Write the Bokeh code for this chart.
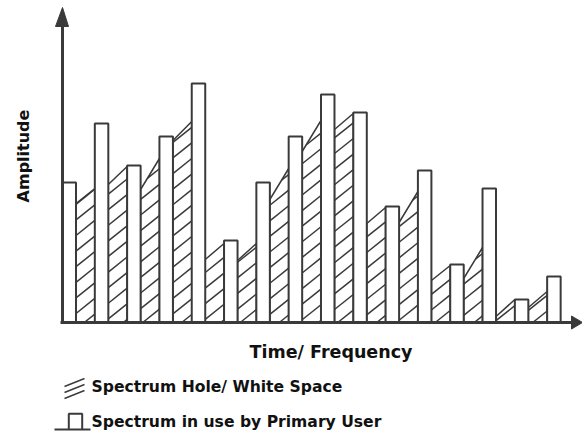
import numpy as np
from bokeh.plotting import figure
from bokeh.models import Range1d, Label
from bokeh.embed import file_html
from bokeh.resources import INLINE

# ---------------- data ----------------
slots = list(range(16))  # time / frequency slots
pu_amplitude = [14.0, 19.9, 15.7, 18.6, 23.9, 8.2, 14.0, 18.6, 22.8, 21.0, 11.6, 15.2, 5.8, 13.4, 2.3, 4.6]
hole_start = [11.9, 13.8, 13.3, 18.2, 6.3, 6.2, 12.3, 17.1, 19.3, 9.9, 10.0, 4.2, 4.4, 0.6, 1.5]
hole_end = [13.4, 15.6, 16.4, 20.1, 7.9, 7.9, 15.4, 20.2, 20.9, 11.5, 13.1, 5.7, 7.5, 2.3, 3.1]
x_label = "Time/ Frequency"
y_label = "Amplitude"
legend_labels = ["Spectrum Hole/ White Space", "Spectrum in use by Primary User"]

# ---------------- layout helpers (page px -> data) ----------------
PX_X, PX_Y = 32.31, 10.0
X0, Y0 = 62.0, 322.0


def dx(px):
    return (px - X0) / PX_X


def dy(py):
    return (Y0 - py) / PX_Y


BW = 13.5 / PX_X
INK = "#3a3a3a"
TEXT = "#111111"
FONT = "DejaVu Sans"

p = figure(width=582, height=435,
           x_range=Range1d(dx(0), dx(582)), y_range=Range1d(dy(435), dy(0)),
           x_axis_type=None, y_axis_type=None, toolbar_location=None,
           output_backend="svg", min_border=0, outline_line_color=None)
p.background_fill_color = "white"
p.border_fill_color = "white"

# ---------------- hatch lines inside spectrum holes ----------------
m = 0.8 * PX_X / PX_Y
gap = 15.6 / PX_Y
c0 = -0.18
hx0, hy0, hx1, hy1 = [], [], [], []
for i, (hl, hr) in enumerate(zip(hole_start, hole_end)):
    xl = slots[i] + BW
    xr = slots[i] + 1
    s = (hr - hl) / (xr - xl)
    for k in range(-40, 30):
        c = c0 + k * gap
        lo, hi = xl, xr
        lo = max(lo, -c / m)
        d = m - s
        e = c - hl + s * xl
        if abs(d) < 1e-9:
            if e > 0:
                continue
        elif d > 0:
            hi = min(hi, -e / d)
        else:
            lo = max(lo, -e / d)
        if hi - lo > 1e-4:
            hx0.append(lo); hy0.append(m * lo + c)
            hx1.append(hi); hy1.append(m * hi + c)
p.segment(x0=hx0, y0=hy0, x1=hx1, y1=hy1, line_color=INK, line_width=1.5)

# hole outlines
hxs = [[slots[i] + BW, slots[i] + BW, slots[i] + 1, slots[i] + 1] for i in range(len(hole_start))]
hys = [[0, hl, hr, 0] for hl, hr in zip(hole_start, hole_end)]
p.patches(xs=hxs, ys=hys, fill_color=None, line_color=INK, line_width=1.5)

# ---------------- primary-user bars ----------------
p.quad(left=slots, right=[s + BW for s in slots], bottom=0, top=pu_amplitude,
       fill_color="white", line_color=INK, line_width=2)

# ---------------- axes with arrow heads ----------------
p.line(x=[dx(60), dx(572)], y=[0, 0], line_color=INK, line_width=3)
p.line(x=[0, 0], y=[dy(323.5), dy(25)], line_color=INK, line_width=3)
p.patches(xs=[[dx(571), dx(582), dx(571)], [dx(55), 0, dx(68)]],
          ys=[[dy(315.5), dy(322), dy(328.5)], [dy(26), dy(7), dy(26)]],
          fill_color=INK, line_color=INK, line_width=1)

# ---------------- texts ----------------
p.add_layout(Label(x=dx(330.5), y=dy(351), text=x_label, text_align="center",
                   text_baseline="middle", text_font=FONT, text_font_style="bold",
                   text_font_size="17.5px", text_color=TEXT))
p.add_layout(Label(x=dx(23), y=dy(155.5), text=y_label, angle=np.pi / 2,
                   text_align="center", text_baseline="middle", text_font=FONT,
                   text_font_style="bold", text_font_size="16px", text_color=TEXT))
for lbl, ypx in zip(legend_labels, [386, 421]):
    p.add_layout(Label(x=dx(91), y=dy(ypx), text=lbl, text_align="left",
                       text_baseline="middle", text_font=FONT, text_font_style="bold",
                       text_font_size="15.6px", text_color=TEXT))

# ---------------- legend symbols ----------------
p.segment(x0=[dx(64)] * 3, y0=[dy(386), dy(392), dy(398)],
          x1=[dx(84)] * 3, y1=[dy(378), dy(384), dy(390)],
          line_color=INK, line_width=1.5)
p.line(x=[dx(54), dx(90)], y=[dy(429), dy(429)], line_color=INK, line_width=2)
p.line(x=[dx(68.3), dx(68.3), dx(81.7), dx(81.7)], y=[dy(429), dy(413.3), dy(413.3), dy(429)],
       line_color=INK, line_width=2)

open("out.html", "w").write(file_html(p, INLINE))
